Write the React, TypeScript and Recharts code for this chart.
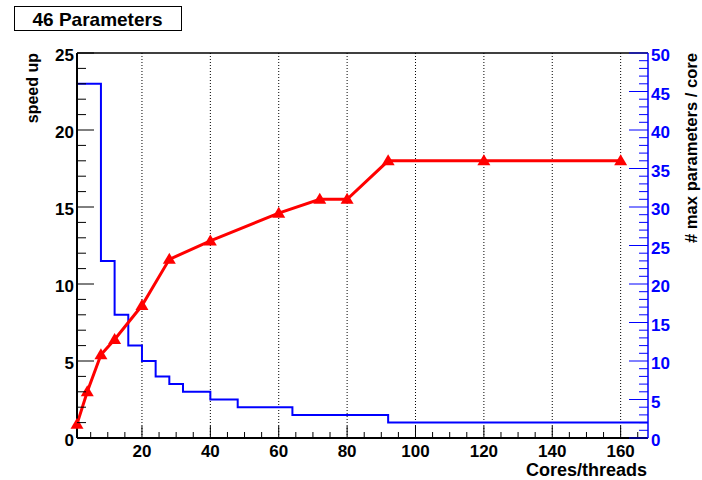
import React from 'react';
import { ComposedChart, Line, XAxis, YAxis, ReferenceLine } from 'recharts';

// ---- data ----
const cores = [1, 4, 8, 12, 20, 28, 40, 60, 72, 80, 92, 120, 160];
const speedUp = [0.9, 3.0, 5.4, 6.4, 8.6, 11.6, 12.8, 14.6, 15.5, 15.5, 18.0, 18.0, 18.0];

const stepEdges = [1, 8, 12, 16, 20, 24, 28, 32, 40, 48, 64, 92, 168];
const maxParamsPerCore = [46, 23, 16, 12, 10, 8, 7, 6, 5, 4, 3, 2, 2];

const xMajorTicks = [20, 40, 60, 80, 100, 120, 140, 160];
const xAllTicks = [5, 10, 15, 20, 25, 30, 35, 40, 45, 50, 55, 60, 65, 70, 75, 80, 85, 90, 95, 100, 105, 110, 115, 120, 125, 130, 135, 140, 145, 150, 155, 160, 165];
const leftMajorTicks = [0, 5, 10, 15, 20, 25];
const leftAllTicks = [0, 1, 2, 3, 4, 5, 6, 7, 8, 9, 10, 11, 12, 13, 14, 15, 16, 17, 18, 19, 20, 21, 22, 23, 24, 25];
const rightMajorTicks = [0, 5, 10, 15, 20, 25, 30, 35, 40, 45, 50];
const rightAllTicks = [0, 1, 2, 3, 4, 5, 6, 7, 8, 9, 10, 11, 12, 13, 14, 15, 16, 17, 18, 19, 20, 21, 22, 23, 24, 25, 26, 27, 28, 29, 30, 31, 32, 33, 34, 35, 36, 37, 38, 39, 40, 41, 42, 43, 44, 45, 46, 47, 48, 49, 50];

const titleText = '46 Parameters';
const xTitle = 'Cores/threads';
const yLeftTitle = 'speed up';
const yRightTitle = '# max parameters / core';

const speedData = cores.map((c, i) => ({ x: c, s: speedUp[i] }));
const stepData = stepEdges.map((e, i) => ({ x: e, p: maxParamsPerCore[i] }));

const FONT = '"Liberation Sans", Arial, Helvetica, sans-serif';
const RED = '#ff0000';
const BLUE = '#0000ff';

const XTickBottom = (props: any) => {
  const { x, y, payload } = props;
  const v = payload.value;
  const major = xMajorTicks.includes(v);
  return (
    <g>
      <line x1={x} x2={x} y1={y} y2={y - (major ? 12 : 6)} stroke="#000" strokeWidth={1} />
      {major && (
        <text x={x} y={y + 18.5} textAnchor="middle" fontSize={17} fontWeight="bold" fontFamily={FONT} fill="#000">
          {v}
        </text>
      )}
    </g>
  );
};

const XTickTop = (props: any) => {
  const { x, y, payload } = props;
  const major = xMajorTicks.includes(payload.value);
  return <line x1={x} x2={x} y1={y} y2={y + (major ? 12 : 6)} stroke="#000" strokeWidth={1} />;
};

const YTickLeft = (props: any) => {
  const { x, y, payload } = props;
  const v = payload.value;
  const major = leftMajorTicks.includes(v);
  return (
    <g>
      <line x1={x} x2={x + (major ? 17 : 9)} y1={y} y2={y} stroke="#000" strokeWidth={1} />
      {major && (
        <text x={x - 3} y={y + 8} textAnchor="end" fontSize={17} fontWeight="bold" fontFamily={FONT} fill="#000">
          {v}
        </text>
      )}
    </g>
  );
};

const YTickRight = (props: any) => {
  const { x, y, payload } = props;
  const v = payload.value;
  const major = rightMajorTicks.includes(v);
  return (
    <g>
      <line x1={x} x2={x - (major ? 19 : 9)} y1={y} y2={y} stroke={BLUE} strokeWidth={1} />
      {major && (
        <text x={x + 3} y={y + 8} textAnchor="start" fontSize={17} fontWeight="bold" fontFamily={FONT} fill={BLUE}>
          {v}
        </text>
      )}
    </g>
  );
};

const Triangle = (props: any) => {
  const { cx, cy } = props;
  if (cx == null || cy == null) return null;
  return <path d={`M${cx},${cy - 6.5} L${cx + 6.5},${cy + 4.5} L${cx - 6.5},${cy + 4.5} Z`} fill={RED} />;
};

export default function App() {
  return (
    <div style={{ position: 'absolute', left: 0, top: 0, width: 702, height: 480, background: '#fff' }}>
      <ComposedChart width={702} height={480} margin={{ top: 33, right: 24, bottom: 22, left: 47 }}>
        <XAxis
          xAxisId="b"
          type="number"
          dataKey="x"
          domain={[1, 168]}
          ticks={xAllTicks}
          interval={0}
          tickSize={0}
          tickMargin={0}
          height={20}
          tick={<XTickBottom />}
          axisLine={{ stroke: '#000', strokeWidth: 2 }}
        />
        <XAxis
          xAxisId="t"
          orientation="top"
          type="number"
          dataKey="x"
          domain={[1, 168]}
          ticks={xAllTicks}
          interval={0}
          tickSize={0}
          tickMargin={0}
          height={20}
          tick={<XTickTop />}
          axisLine={{ stroke: '#000', strokeWidth: 1.5 }}
        />
        <YAxis
          yAxisId="l"
          type="number"
          domain={[0, 25]}
          ticks={leftAllTicks}
          interval={0}
          tickSize={0}
          tickMargin={0}
          width={30}
          tick={<YTickLeft />}
          axisLine={{ stroke: '#000', strokeWidth: 2 }}
        />
        <YAxis
          yAxisId="r"
          orientation="right"
          type="number"
          domain={[0, 50]}
          ticks={rightAllTicks}
          interval={0}
          tickSize={0}
          tickMargin={0}
          width={30}
          tick={<YTickRight />}
          axisLine={{ stroke: BLUE, strokeWidth: 1.5 }}
        />
        {xMajorTicks.map((v) => (
          <ReferenceLine key={v} x={v} xAxisId="b" yAxisId="l" stroke="#000" strokeWidth={1} strokeDasharray="1 2" />
        ))}
        <Line
          data={stepData}
          xAxisId="b"
          yAxisId="r"
          dataKey="p"
          type="stepAfter"
          stroke={BLUE}
          strokeWidth={2}
          dot={false}
          activeDot={false}
          isAnimationActive={false}
        />
        <Line
          data={speedData}
          xAxisId="b"
          yAxisId="l"
          dataKey="s"
          type="linear"
          stroke={RED}
          strokeWidth={3}
          dot={<Triangle />}
          activeDot={false}
          isAnimationActive={false}
        />
      </ComposedChart>
      <svg width={702} height={480} style={{ position: 'absolute', left: 0, top: 0, pointerEvents: 'none' }}>
        <rect x={14.5} y={6.5} width={167} height={24} fill="#fff" stroke="#000" strokeWidth={1} />
        <text x={97.5} y={26} textAnchor="middle" fontSize={19} fontWeight="bold" fontFamily={FONT} fill="#000">
          {titleText}
        </text>
        <text x={647} y={476} textAnchor="end" fontSize={18} fontWeight="bold" fontFamily={FONT} fill="#000">
          {xTitle}
        </text>
        <text transform="translate(38,53) rotate(-90)" textAnchor="end" fontSize={16} fontWeight="bold" fontFamily={FONT} fill="#000">
          {yLeftTitle}
        </text>
        <text transform="translate(697,53) rotate(-90)" textAnchor="end" fontSize={16.6} fontWeight="bold" fontFamily={FONT} fill="#000">
          {yRightTitle}
        </text>
      </svg>
    </div>
  );
}
